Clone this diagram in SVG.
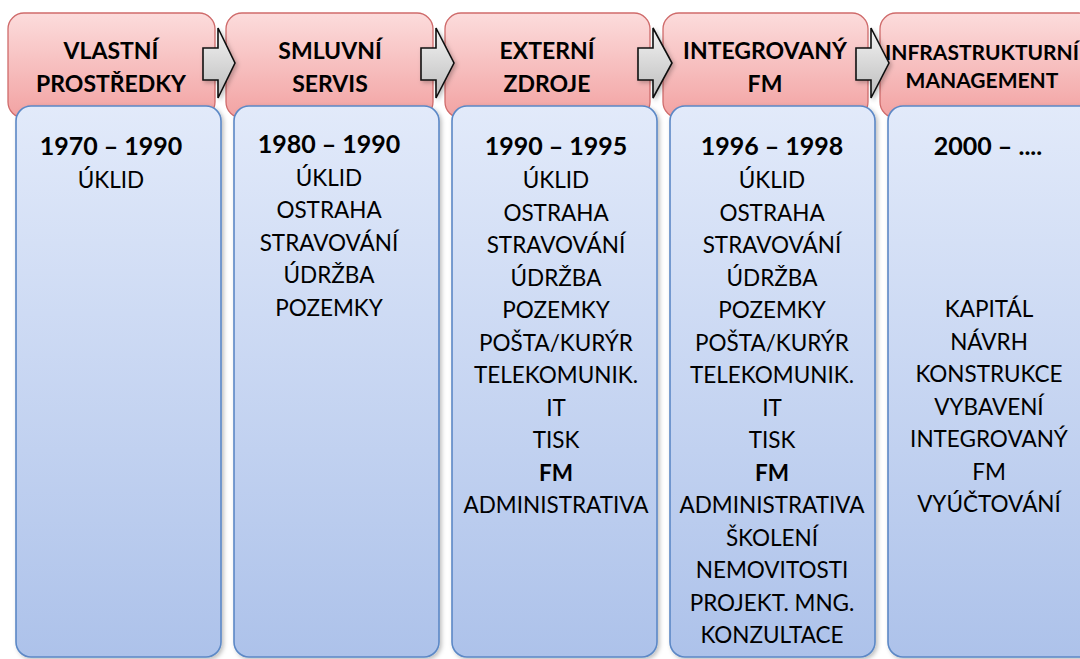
<svg xmlns="http://www.w3.org/2000/svg" width="1080" height="659" viewBox="0 0 1080 659">
<defs>
<linearGradient id="gRed" x1="0" y1="0" x2="0" y2="1">
<stop offset="0" stop-color="#fcdcdc"/>
<stop offset="1" stop-color="#f2a2a2"/>
</linearGradient>
<linearGradient id="gBlue" x1="0" y1="0" x2="0" y2="1">
<stop offset="0" stop-color="#e2eafa"/>
<stop offset="1" stop-color="#adc2ea"/>
</linearGradient>
<linearGradient id="gGray" x1="0" y1="0" x2="0" y2="1">
<stop offset="0" stop-color="#f4f4f4"/>
<stop offset="1" stop-color="#bcbcbc"/>
</linearGradient>
<filter id="sh" x="-10%" y="-10%" width="130%" height="130%">
<feDropShadow dx="2" dy="2" stdDeviation="2" flood-color="#000" flood-opacity="0.25"/>
</filter>
</defs>
<style>
.hdr{fill:url(#gRed);stroke:#cf6b6b;stroke-width:1.3}
.box{fill:url(#gBlue);stroke:#5c88c6;stroke-width:1.6}
.arr{fill:url(#gGray);stroke:#111;stroke-width:1.6;stroke-linejoin:miter}
text{font-family:Lato,"Liberation Sans",sans-serif;fill:#000;text-anchor:middle}
.ht{font-weight:bold;font-size:23px}
.ht5{font-weight:bold;font-size:21px}
.yr{font-weight:bold;font-size:25px}
.it{font-size:22.5px}
.b{font-weight:bold}
</style>
<rect width="1080" height="659" fill="#fff"/>

<g id="col1">
<rect class="hdr" x="8" y="13" width="207" height="105" rx="16"/>
<rect class="box" x="16" y="106" width="205" height="551" rx="15" filter="url(#sh)"/>
<text class="ht" x="111" y="59">VLASTNÍ</text>
<text class="ht" x="111" y="92">PROSTŘEDKY</text>
<text class="yr" x="111" y="155">1970 – 1990</text>
<text class="it" x="111" y="188">ÚKLID</text>
</g>

<g id="col2">
<rect class="hdr" x="226" y="13" width="207" height="105" rx="16"/>
<rect class="box" x="234" y="106" width="205" height="551" rx="15" filter="url(#sh)"/>
<text class="ht" x="330" y="59">SMLUVNÍ</text>
<text class="ht" x="330" y="92">SERVIS</text>
<text class="yr" x="329" y="153">1980 – 1990</text>
<text class="it" x="329" y="185.5">ÚKLID</text>
<text class="it" x="329" y="218">OSTRAHA</text>
<text class="it" x="329" y="250.5">STRAVOVÁNÍ</text>
<text class="it" x="329" y="283">ÚDRŽBA</text>
<text class="it" x="329" y="315.5">POZEMKY</text>
</g>

<g id="col3">
<rect class="hdr" x="445" y="13" width="205" height="105" rx="16"/>
<rect class="box" x="452" y="106" width="205" height="551" rx="15" filter="url(#sh)"/>
<text class="ht" x="547" y="59">EXTERNÍ</text>
<text class="ht" x="547" y="92">ZDROJE</text>
<text class="yr" x="556" y="155">1990 – 1995</text>
<text class="it" x="556" y="188">ÚKLID</text>
<text class="it" x="556" y="220.5">OSTRAHA</text>
<text class="it" x="556" y="253">STRAVOVÁNÍ</text>
<text class="it" x="556" y="285.5">ÚDRŽBA</text>
<text class="it" x="556" y="318">POZEMKY</text>
<text class="it" x="556" y="350.5">POŠTA/KURÝR</text>
<text class="it" x="556" y="383">TELEKOMUNIK.</text>
<text class="it" x="556" y="415.5">IT</text>
<text class="it" x="556" y="448">TISK</text>
<text class="it b" x="556" y="480.5">FM</text>
<text class="it" x="556" y="513">ADMINISTRATIVA</text>
</g>

<g id="col4">
<rect class="hdr" x="663" y="13" width="205" height="105" rx="16"/>
<rect class="box" x="670" y="106" width="205" height="551" rx="15" filter="url(#sh)"/>
<text class="ht" x="765" y="59">INTEGROVANÝ</text>
<text class="ht" x="765" y="92">FM</text>
<text class="yr" x="772" y="155">1996 – 1998</text>
<text class="it" x="772" y="188">ÚKLID</text>
<text class="it" x="772" y="220.5">OSTRAHA</text>
<text class="it" x="772" y="253">STRAVOVÁNÍ</text>
<text class="it" x="772" y="285.5">ÚDRŽBA</text>
<text class="it" x="772" y="318">POZEMKY</text>
<text class="it" x="772" y="350.5">POŠTA/KURÝR</text>
<text class="it" x="772" y="383">TELEKOMUNIK.</text>
<text class="it" x="772" y="415.5">IT</text>
<text class="it" x="772" y="448">TISK</text>
<text class="it b" x="772" y="480.5">FM</text>
<text class="it" x="772" y="513">ADMINISTRATIVA</text>
<text class="it" x="772" y="545.5">ŠKOLENÍ</text>
<text class="it" x="772" y="578">NEMOVITOSTI</text>
<text class="it" x="772" y="610.5">PROJEKT. MNG.</text>
<text class="it" x="772" y="643">KONZULTACE</text>
</g>

<g id="col5">
<rect class="hdr" x="880" y="13" width="215" height="105" rx="16"/>
<rect class="box" x="888" y="106" width="210" height="551" rx="15" filter="url(#sh)"/>
<text class="ht5" x="982" y="60">INFRASTRUKTURNÍ</text>
<text class="ht5" x="982" y="88">MANAGEMENT</text>
<text class="yr" x="988" y="155">2000 – ....</text>
<text class="it" x="989" y="317">KAPITÁL</text>
<text class="it" x="989" y="349.5">NÁVRH</text>
<text class="it" x="989" y="382">KONSTRUKCE</text>
<text class="it" x="989" y="414.5">VYBAVENÍ</text>
<text class="it" x="989" y="447">INTEGROVANÝ</text>
<text class="it" x="989" y="479.5">FM</text>
<text class="it" x="989" y="512">VYÚČTOVÁNÍ</text>
</g>

<g id="connectors" filter="url(#sh)">
<path class="arr" d="M203,48 H218 V28 L235,63 L218,98 V80 H203 Z"/>
<path class="arr" d="M421,48 H436 V28 L454,63 L436,98 V80 H421 Z"/>
<path class="arr" d="M638,48 H653 V28 L672,63 L653,98 V80 H638 Z"/>
<path class="arr" d="M856,48 H871 V28 L889,63 L871,98 V80 H856 Z"/>
</g>
</svg>
